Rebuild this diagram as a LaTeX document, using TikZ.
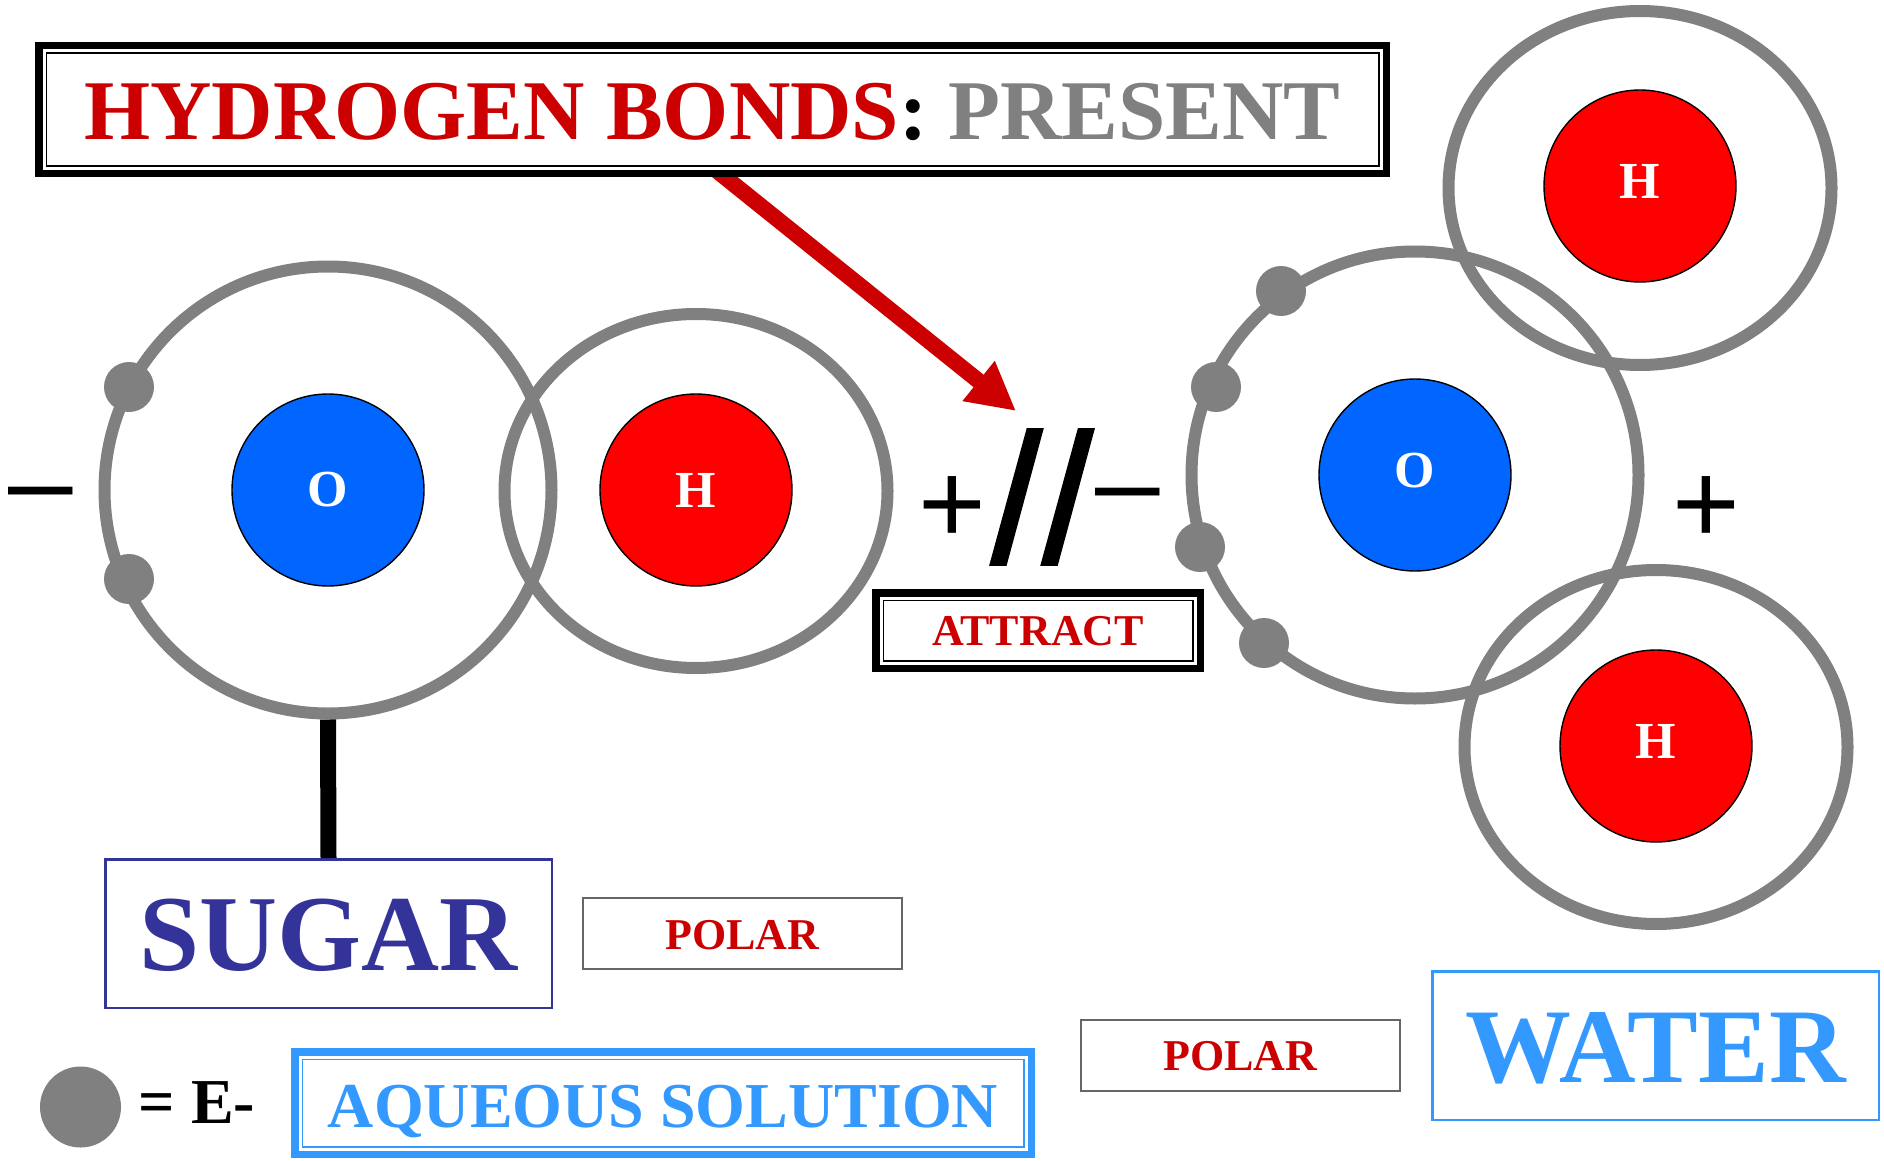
\documentclass[tikz,border=0pt]{standalone}
\usepackage{fontspec}
\usepackage{tikz}
\usetikzlibrary{arrows.meta,backgrounds,shapes.geometric}
\setmainfont{Liberation Serif}
\newfontfamily\signfont{Liberation Sans}
\newfontfamily\slashfont[FakeBold=1.5]{Liberation Sans}
\definecolor{shellgray}{HTML}{808080}
\definecolor{bondred}{HTML}{CC0000}
\definecolor{atomred}{HTML}{FF0000}
\definecolor{atomblue}{HTML}{0066FF}
\definecolor{waterblue}{HTML}{3399FF}
\definecolor{sugarblue}{HTML}{333399}
\definecolor{polargray}{HTML}{666666}
\newcommand{\bigfont}[1]{\fontsize{#1}{#1}\selectfont\bfseries}

\begin{document}
\begin{tikzpicture}[
  x=0.5pt, y=-0.5pt,
  oshell/.style={draw=shellgray, circle, line width=6pt, minimum size=223.5pt, inner sep=0pt},
  hshell/.style={draw=shellgray, ellipse, line width=6pt, minimum width=191.5pt, minimum height=177pt, inner sep=0pt},
  nucleus/.style={draw=black, circle, line width=0.7pt, minimum size=96pt, inner sep=0pt, text=white, font=\bigfont{26}},
  electron/.style={fill=shellgray, circle, minimum size=25pt, inner sep=0pt},
  sign/.style={font=\signfont\fontsize{58}{60}\selectfont, inner sep=0pt},
  tripleframe/.style={draw=#1, fill=white, rectangle, line width=3.75pt, inner sep=0pt, text depth=0pt,
    path picture={\draw[#1, line width=0.75pt] ([shift={(3.75pt,3.75pt)}]path picture bounding box.south west) rectangle ([shift={(-3.75pt,-3.75pt)}]path picture bounding box.north east);}},
  namebox/.style={draw=#1, rectangle, line width=1.25pt, minimum width=223.25pt, minimum height=74.25pt, inner sep=0pt, text height=36.5pt, text depth=0pt, text=#1, font=\bigfont{54}},
  polarbox/.style={draw=polargray, rectangle, line width=1pt, minimum width=159.5pt, minimum height=35.5pt, inner sep=0pt, text height=15.5pt, text depth=0pt, text=bondred, font=\bigfont{22}}
]
\useasboundingbox (0,0) rectangle (1884,1161);
% Headline
\node[tripleframe=black, minimum width=673.75pt, minimum height=63.75pt, text height=30pt, font=\bigfont{42.5}] (title) at (712.5,109.5)
  {\textcolor{bondred}{HYDROGEN BONDS}: \textcolor{shellgray}{PRESENT}};
% Sugar molecule
\node[oshell] (shellO1) at (328,490) {};
\node[hshell] (shellH1) at (696,491) {};
\node[nucleus, fill=atomblue] (nucO1) at (328,490) {O};
\node[nucleus, fill=atomred] (nucH1) at (696,490) {H};
\node[electron] (e1) at (129,387) {};
\node[electron] (e2) at (129,579) {};
% Water molecule
\node[oshell] (shellO2) at (1415,475) {};
\node[hshell] (shellH2) at (1640,188) {};
\node[hshell] (shellH3) at (1656,747) {};
\node[nucleus, fill=atomblue, text depth=5pt] (nucO2) at (1415,475) {O};
\node[nucleus, fill=atomred, text depth=5pt] (nucH2) at (1640,186) {H};
\node[nucleus, fill=atomred, text depth=5pt] (nucH3) at (1656,746) {H};
\node[electron] (e3) at (1281,291) {};
\node[electron] (e4) at (1216,387) {};
\node[electron] (e5) at (1200,547) {};
\node[electron] (e6) at (1264,643) {};
% Charges and the bond
\node[sign] (minus1) at (41,504) {–};
\node[sign] (plus1) at (952,510) {+};
\node[sign, font=\slashfont\fontsize{92}{96}\selectfont] (bond) at (1042,497) {//};
\node[sign] (minus2) at (1128,505) {–};
\node[sign] (plus2) at (1706,510) {+};
\node[tripleframe=black, minimum width=162.25pt, minimum height=37.75pt, text height=15.2pt, text=bondred, font=\bigfont{22}] (attract) at (1038,630.5) {ATTRACT};
% Pointer from the headline
\coordinate (tip) at (1016,411);
\coordinate (start) at ([xshift=1.75pt,yshift=3.5pt]title.south);
\begin{scope}[on background layer]
\draw[bondred, line width=8pt, -{Triangle[length=24pt,width=24pt]}] (start) -- (tip);
\end{scope}
% Name boxes
\node[namebox=sugarblue] (sugar) at (328.5,933.5) {SUGAR};
\draw[black, line width=8pt] (shellO1.south) -- (sugar.north);
\node[polarbox] (polar1) at (742.5,933.5) {POLAR};
\node[polarbox] (polar2) at (1240.5,1055) {POLAR};
\node[namebox=waterblue, font=\bigfont{53}] (water) at (1655.5,1045.5) {WATER};
% Legend
\node[electron, minimum size=40.5pt] (legend) at (80.5,1107) {};
\node[font=\bigfont{32}, inner sep=0pt, anchor=base] (legendtext) at (197,1123) {= E-};
\node[tripleframe=waterblue, minimum width=368.25pt, minimum height=51.25pt, text height=24pt, text=waterblue, font=\bigfont{32}] (aqueous) at (663,1103) {AQUEOUS SOLUTION};
\end{tikzpicture}
\end{document}
